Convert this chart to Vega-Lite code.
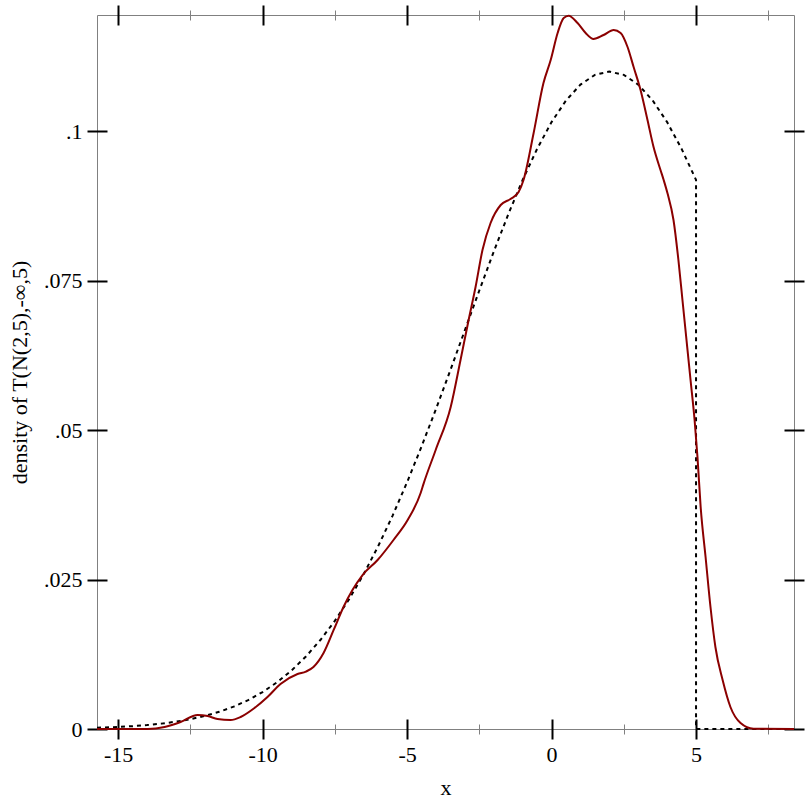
{
  "$schema": "https://vega.github.io/schema/vega-lite/v6.json",
  "width": 697,
  "height": 714,
  "autosize": {"type": "none"},
  "padding": {"left": 97, "top": 15, "right": 18, "bottom": 83},
  "background": "white",
  "config": {
    "view": {"stroke": "#808080", "strokeWidth": 1},
    "axis": {
      "grid": false,
      "domain": false,
      "labelFont": "Liberation Serif",
      "titleFont": "Liberation Serif",
      "labelFontSize": 22,
      "titleFontSize": 22,
      "labelColor": "black",
      "titleColor": "black",
      "titleFontWeight": "normal"
    }
  },
  "datasets": {
    "kde": [
      {"x": -15.73, "y": 0}, {"x": -13.98, "y": 0}, {"x": -13.39, "y": 0.00033}, {"x": -12.84, "y": 0.00117},
      {"x": -12.25, "y": 0.00234}, {"x": -11.9, "y": 0.00217}, {"x": -11.56, "y": 0.00167}, {"x": -11.11, "y": 0.0015},
      {"x": -10.76, "y": 0.00201}, {"x": -10.28, "y": 0.00351}, {"x": -9.83, "y": 0.00535}, {"x": -9.38, "y": 0.00753},
      {"x": -8.79, "y": 0.0092}, {"x": -8.5, "y": 0.0096}, {"x": -8.24, "y": 0.01037}, {"x": -7.89, "y": 0.01271},
      {"x": -7.54, "y": 0.01656}, {"x": -7.2, "y": 0.0204}, {"x": -6.89, "y": 0.02324}, {"x": -6.54, "y": 0.02575},
      {"x": -6.02, "y": 0.02826}, {"x": -5.47, "y": 0.03161}, {"x": -4.98, "y": 0.03495}, {"x": -4.53, "y": 0.03946},
      {"x": -4.43, "y": 0.041}, {"x": -4.01, "y": 0.04666}, {"x": -3.49, "y": 0.05385}, {"x": -3.15, "y": 0.06171},
      {"x": -2.87, "y": 0.06839}, {"x": -2.63, "y": 0.07391}, {"x": -2.39, "y": 0.0801}, {"x": -2.11, "y": 0.08462},
      {"x": -1.76, "y": 0.08763}, {"x": -1.42, "y": 0.08863}, {"x": -1.14, "y": 0.0898}, {"x": -0.97, "y": 0.09181},
      {"x": -0.62, "y": 0.09967}, {"x": -0.28, "y": 0.10803}, {"x": -0.03, "y": 0.11187}, {"x": 0.21, "y": 0.11639},
      {"x": 0.42, "y": 0.1189}, {"x": 0.59, "y": 0.11928}, {"x": 0.9, "y": 0.11806}, {"x": 1.18, "y": 0.11639},
      {"x": 1.45, "y": 0.11538}, {"x": 1.8, "y": 0.11605}, {"x": 2.15, "y": 0.11689}, {"x": 2.39, "y": 0.11639},
      {"x": 2.63, "y": 0.11405}, {"x": 2.84, "y": 0.1107}, {"x": 3.08, "y": 0.10686}, {"x": 3.32, "y": 0.10184},
      {"x": 3.53, "y": 0.09732}, {"x": 3.77, "y": 0.09348}, {"x": 3.88, "y": 0.09181}, {"x": 4.01, "y": 0.08963},
      {"x": 4.22, "y": 0.08512}, {"x": 4.39, "y": 0.07843}, {"x": 4.53, "y": 0.07174}, {"x": 4.67, "y": 0.06505},
      {"x": 4.81, "y": 0.05836}, {"x": 4.95, "y": 0.05167}, {"x": 5.05, "y": 0.04548}, {"x": 5.16, "y": 0.03712},
      {"x": 5.33, "y": 0.02876}, {"x": 5.5, "y": 0.0204}, {"x": 5.67, "y": 0.01371}, {"x": 5.92, "y": 0.00819},
      {"x": 6.19, "y": 0.00368}, {"x": 6.54, "y": 0.001}, {"x": 6.99, "y": 0.00005}, {"x": 8.39, "y": 0}
    ],
    "pdf": [
      {"i": 0, "x": -15.73, "y": 0.000205}, {"i": 1, "x": -15, "y": 0.000339}, {"i": 2, "x": -14.5, "y": 0.000475},
      {"i": 3, "x": -14, "y": 0.000657}, {"i": 4, "x": -13.5, "y": 0.0009}, {"i": 5, "x": -13, "y": 0.001221},
      {"i": 6, "x": -12.5, "y": 0.00164}, {"i": 7, "x": -12, "y": 0.002181}, {"i": 8, "x": -11.5, "y": 0.002872},
      {"i": 9, "x": -11, "y": 0.003743}, {"i": 10, "x": -10.5, "y": 0.00483}, {"i": 11, "x": -10, "y": 0.006171},
      {"i": 12, "x": -9.5, "y": 0.007806}, {"i": 13, "x": -9, "y": 0.009776}, {"i": 14, "x": -8.5, "y": 0.012121},
      {"i": 15, "x": -8, "y": 0.014878}, {"i": 16, "x": -7.5, "y": 0.018082}, {"i": 17, "x": -7, "y": 0.021757},
      {"i": 18, "x": -6.5, "y": 0.025917}, {"i": 19, "x": -6, "y": 0.030567}, {"i": 20, "x": -5.5, "y": 0.035691},
      {"i": 21, "x": -5, "y": 0.041261}, {"i": 22, "x": -4.5, "y": 0.047224}, {"i": 23, "x": -4, "y": 0.053512},
      {"i": 24, "x": -3.5, "y": 0.060034}, {"i": 25, "x": -3, "y": 0.06668}, {"i": 26, "x": -2.5, "y": 0.073325},
      {"i": 27, "x": -2, "y": 0.079831}, {"i": 28, "x": -1.5, "y": 0.086048}, {"i": 29, "x": -1, "y": 0.091827},
      {"i": 30, "x": -0.5, "y": 0.097019}, {"i": 31, "x": 0, "y": 0.101485}, {"i": 32, "x": 0.5, "y": 0.105099},
      {"i": 33, "x": 1, "y": 0.10776}, {"i": 34, "x": 1.5, "y": 0.109389}, {"i": 35, "x": 2, "y": 0.109937},
      {"i": 36, "x": 2.5, "y": 0.109389}, {"i": 37, "x": 3, "y": 0.10776}, {"i": 38, "x": 3.5, "y": 0.105099},
      {"i": 39, "x": 4, "y": 0.101485}, {"i": 40, "x": 4.5, "y": 0.097019}, {"i": 41, "x": 5, "y": 0.091827},
      {"i": 42, "x": 5, "y": 0}, {"i": 43, "x": 8.39, "y": 0}
    ]
  },
  "layer": [
    {
      "data": {"name": "pdf"},
      "mark": {"type": "line", "color": "black", "strokeWidth": 2, "strokeDash": [4, 4]},
      "encoding": {
        "x": {"field": "x", "type": "quantitative",
              "scale": {"domain": [-15.73, 8.39], "nice": false, "zero": false},
              "axis": {"orient": "bottom", "values": [-15, -10, -5, 0, 5], "offset": -10, "tickSize": 20,
                       "tickWidth": 2, "tickColor": "black", "labelPadding": 5,
                       "labelExpr": "'' + datum.value", "title": "x", "titlePadding": 12}},
        "y": {"field": "y", "type": "quantitative",
              "scale": {"domain": [0, 0.1194], "nice": false, "zero": false},
              "axis": {"orient": "left", "values": [0, 0.025, 0.05, 0.075, 0.1], "offset": -10, "tickSize": 20,
                       "tickWidth": 2, "tickColor": "black", "labelPadding": 5,
                       "labelExpr": "replace('' + datum.value, '0.', '.')",
                       "title": "density of T(N(2,5),-∞,5)", "titlePadding": 12}},
        "order": {"field": "i", "type": "quantitative"}
      }
    },
    {
      "data": {"name": "kde"},
      "mark": {"type": "line", "color": "#8b0000", "strokeWidth": 2, "interpolate": "monotone"},
      "encoding": {
        "x": {"field": "x", "type": "quantitative",
              "scale": {"domain": [-15.73, 8.39], "nice": false, "zero": false},
              "axis": {"orient": "bottom", "values": [-12.5, -7.5, -2.5, 2.5, 7.5], "offset": -5, "tickSize": 10,
                       "tickWidth": 1, "tickColor": "#808080", "labels": false, "title": null}},
        "y": {"field": "y", "type": "quantitative",
              "scale": {"domain": [0, 0.1194], "nice": false, "zero": false},
              "axis": {"orient": "right", "values": [0, 0.025, 0.05, 0.075, 0.1], "offset": -10, "tickSize": 20,
                       "tickWidth": 2, "tickColor": "black", "labels": false, "title": null}}
      }
    },
    {
      "data": {"name": "kde"},
      "mark": {"type": "line", "strokeOpacity": 0},
      "encoding": {
        "x": {"field": "x", "type": "quantitative",
              "scale": {"domain": [-15.73, 8.39], "nice": false, "zero": false},
              "axis": {"orient": "top", "values": [-15, -10, -5, 0, 5], "offset": -10, "tickSize": 20,
                       "tickWidth": 2, "tickColor": "black", "labels": false, "title": null}},
        "y": {"field": "y", "type": "quantitative",
              "scale": {"domain": [0, 0.1194], "nice": false, "zero": false},
              "axis": null}
      }
    },
    {
      "data": {"name": "kde"},
      "mark": {"type": "line", "strokeOpacity": 0},
      "encoding": {
        "x": {"field": "x", "type": "quantitative",
              "scale": {"domain": [-15.73, 8.39], "nice": false, "zero": false},
              "axis": {"orient": "top", "values": [-12.5, -7.5, -2.5, 2.5, 7.5], "offset": -5, "tickSize": 10,
                       "tickWidth": 1, "tickColor": "#808080", "labels": false, "title": null}},
        "y": {"field": "y", "type": "quantitative",
              "scale": {"domain": [0, 0.1194], "nice": false, "zero": false},
              "axis": null}
      }
    }
  ]
}
